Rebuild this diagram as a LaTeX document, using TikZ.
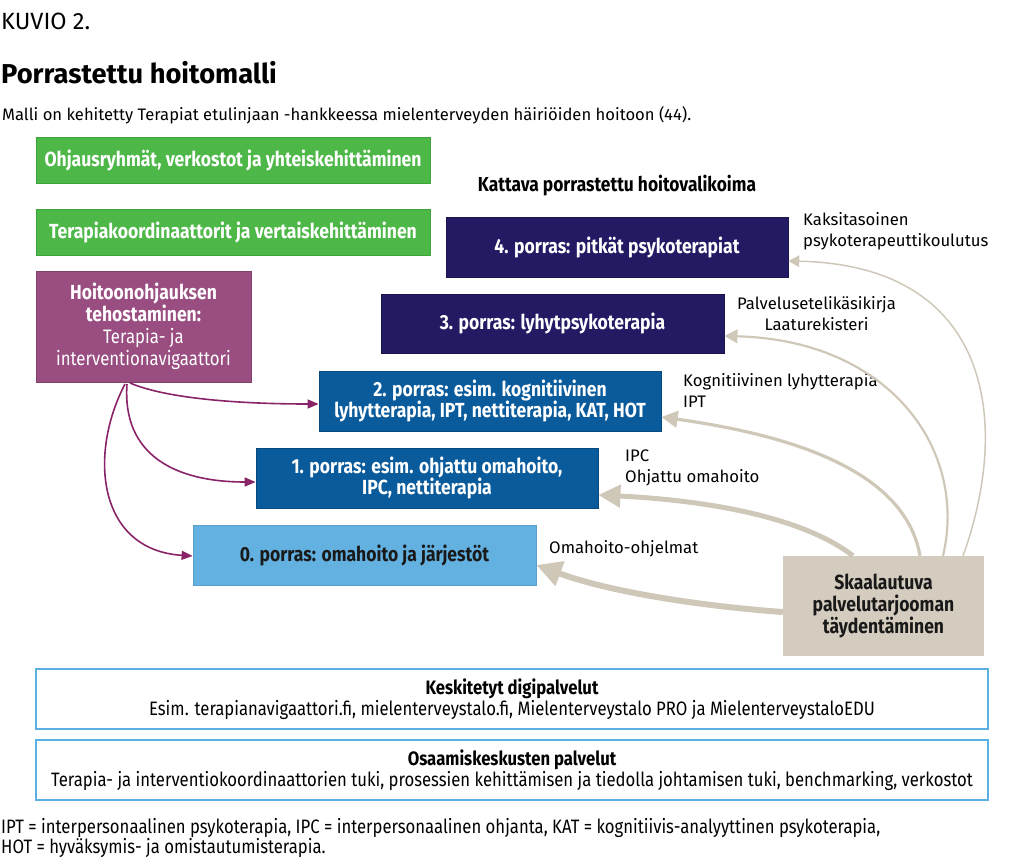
\documentclass[tikz,border=0pt]{standalone}
\usepackage{fontspec}
\setmainfont{Fira Sans}
\newfontfamily\cond[FakeStretch=0.86]{Fira Sans}
\usetikzlibrary{arrows.meta}
\definecolor{cgreen}{HTML}{4DB848}
\definecolor{cgreenb}{HTML}{3FA33B}
\definecolor{cpurple}{HTML}{9A4D80}
\definecolor{cnavy}{HTML}{221A63}
\definecolor{cblue}{HTML}{0A5B9C}
\definecolor{clight}{HTML}{63B1E1}
\definecolor{cbeige}{HTML}{D4CDBF}
\definecolor{carrow}{HTML}{CFC8B9}
\definecolor{cborder}{HTML}{5AAFE3}
\definecolor{cparrow}{HTML}{8A2468}
\begin{document}
\begin{tikzpicture}[x=1pt,y=-1pt,
  every node/.style={inner sep=0pt},
  boxtxt/.style={font=\cond\bfseries\fontsize{20.4}{21.8}\selectfont, text=white, align=center},
  gbox/.style={boxtxt, fill=cgreen, draw=cgreenb, line width=0.8pt},
  pbox/.style={boxtxt, fill=cpurple, draw=cpurple!85!black, line width=0.8pt},
  nbox/.style={boxtxt, fill=cnavy, draw=cnavy!80!black, line width=0.8pt},
  bbox/.style={boxtxt, fill=cblue, draw=cblue!80!black, line width=0.8pt},
  lbox/.style={boxtxt, text=black!90, fill=clight, draw=clight!90!black, line width=0.8pt},
  ebox/.style={boxtxt, text=black!90, fill=cbeige},
  wbox/.style={font=\cond\fontsize{19.4}{20.8}\selectfont, align=center, fill=white, draw=cborder, line width=2.2pt},
  lab/.style={font=\fontsize{16.7}{21}\selectfont, align=left},
  parr/.style={draw=cparrow, line width=1.6pt, -{Triangle[length=11pt,width=9pt]}},
  barr/.style={draw=carrow, -{Triangle[length=#1*3.2pt+6pt,width=#1*3pt+7pt]}, line width=#1 pt},
]
\useasboundingbox (0,0) rectangle (1024,864);

\node[anchor=base west, font=\fontsize{23.5}{26}\selectfont] (kuvio) at (1,30) {KUVIO 2.};
\node[anchor=base west, font=\bfseries\fontsize{27.3}{32}\selectfont] (title) at (1,84) {Porrastettu hoitomalli};
\node[anchor=base west, font=\fontsize{16.6}{21}\selectfont] (sub) at (2,121) {Malli on kehitetty Terapiat etulinjaan -hankkeessa mielenterveyden häiriöiden hoitoon (44).};

\node[gbox, minimum width=394pt, minimum height=46pt] (g1) at (233,160) {Ohjausryhmät, verkostot ja yhteiskehittäminen};
\node[gbox, minimum width=394pt, minimum height=46pt] (g2) at (233,232.5) {Terapiakoordinaattorit ja vertaiskehittäminen};
\node[pbox, minimum width=215pt, minimum height=111pt] (p) at (143.5,326.5) {Hoitoonohjauksen\\tehostaminen:\\\mdseries\fontsize{19.5}{21.8}\selectfont Terapia- ja\\\mdseries\fontsize{19.5}{21.8}\selectfont interventionavigaattori};

\node[anchor=base, font=\cond\bfseries\fontsize{20.2}{22}\selectfont] (kattava) at (617,191) {Kattava porrastettu hoitovalikoima};

\node[nbox, minimum width=342pt, minimum height=60pt] (s4) at (617,247) {4. porras: pitkät psykoterapiat};
\node[nbox, minimum width=343pt, minimum height=59pt] (s3) at (552.5,323.5) {3. porras: lyhytpsykoterapia};
\node[bbox, minimum width=342pt, minimum height=60pt] (s2) at (490,401) {2. porras: esim. kognitiivinen\\lyhytterapia, IPT, nettiterapia, KAT, HOT};
\node[bbox, minimum width=342pt, minimum height=60pt] (s1) at (427,478) {1. porras: esim. ohjattu omahoito,\\IPC, nettiterapia};
\node[lbox, minimum width=343pt, minimum height=60pt] (s0) at (364.5,555) {0. porras: omahoito ja järjestöt};

\node[ebox, minimum width=201pt, minimum height=100pt] (e) at (883.5,606) {Skaalautuva\\palvelutarjooman\\täydentäminen};

\node[lab, anchor=north west] (l4) at (803,212) {Kaksitasoinen\\psykoterapeuttikoulutus};
\node[lab, anchor=north west, align=center] (l3) at (737,296) {Palvelusetelikäsikirja\\Laaturekisteri};
\node[lab, anchor=north west] (l2) at (683,373) {Kognitiivinen lyhytterapia\\IPT};
\node[lab, anchor=north west] (l1) at (625,450) {IPC\\Ohjattu omahoito};
\node[lab, anchor=north west] (l0) at (549,540) {Omahoito-ohjelmat};

% purple arrows
\coordinate (ps2) at (130,383);
\coordinate (ps1) at (127,384);
\coordinate (ps0) at (125,384);
\draw[parr] (ps2) .. controls (170,400) and (250,404) .. (s2.west |- 0,404);
\draw[parr] (ps1) .. controls (122,455) and (175,482) .. (s1.west |- 0,482);
\draw[parr] (ps0) .. controls (88,455) and (98,550) .. (s0.west |- 0,556);

% beige arrows
\draw[barr=6] (e.west |- 0,612) .. controls (700,606) and (610,592) .. (s0.east |- 0,565);
\draw[barr=5] (e.north -| 853,0) .. controls (800,515) and (700,500) .. (s1.east |- 0,495);
\draw[barr=3.2] (e.north -| 920,0) .. controls (905,470) and (790,435) .. (s2.east |- 0,417);
\draw[barr=2.2] (e.north -| 943,0) .. controls (968,450) and (890,340) .. (s3.east |- 0,336);
\draw[barr=1.5] (e.north -| 963,0) .. controls (1012,420) and (990,265) .. (s4.east |- 0,261);

\node[wbox, minimum width=952pt, minimum height=60pt] (d) at (512,699) {\bfseries Keskitetyt digipalvelut\\Esim. terapianavigaattori.fi, mielenterveystalo.fi, Mielenterveystalo PRO ja MielenterveystaloEDU};
\node[wbox, minimum width=952pt, minimum height=60pt] (o) at (512,770) {\bfseries Osaamiskeskusten palvelut\\Terapia- ja interventiokoordinaattorien tuki, prosessien kehittämisen ja tiedolla johtamisen tuki, benchmarking, verkostot};

\node[anchor=north west, align=left, font=\cond\fontsize{19.4}{20}\selectfont] (foot) at (1,818) {IPT = interpersonaalinen psykoterapia, IPC = interpersonaalinen ohjanta, KAT = kognitiivis-analyyttinen psykoterapia,\\HOT = hyväksymis- ja omistautumisterapia.};
\end{tikzpicture}
\end{document}
